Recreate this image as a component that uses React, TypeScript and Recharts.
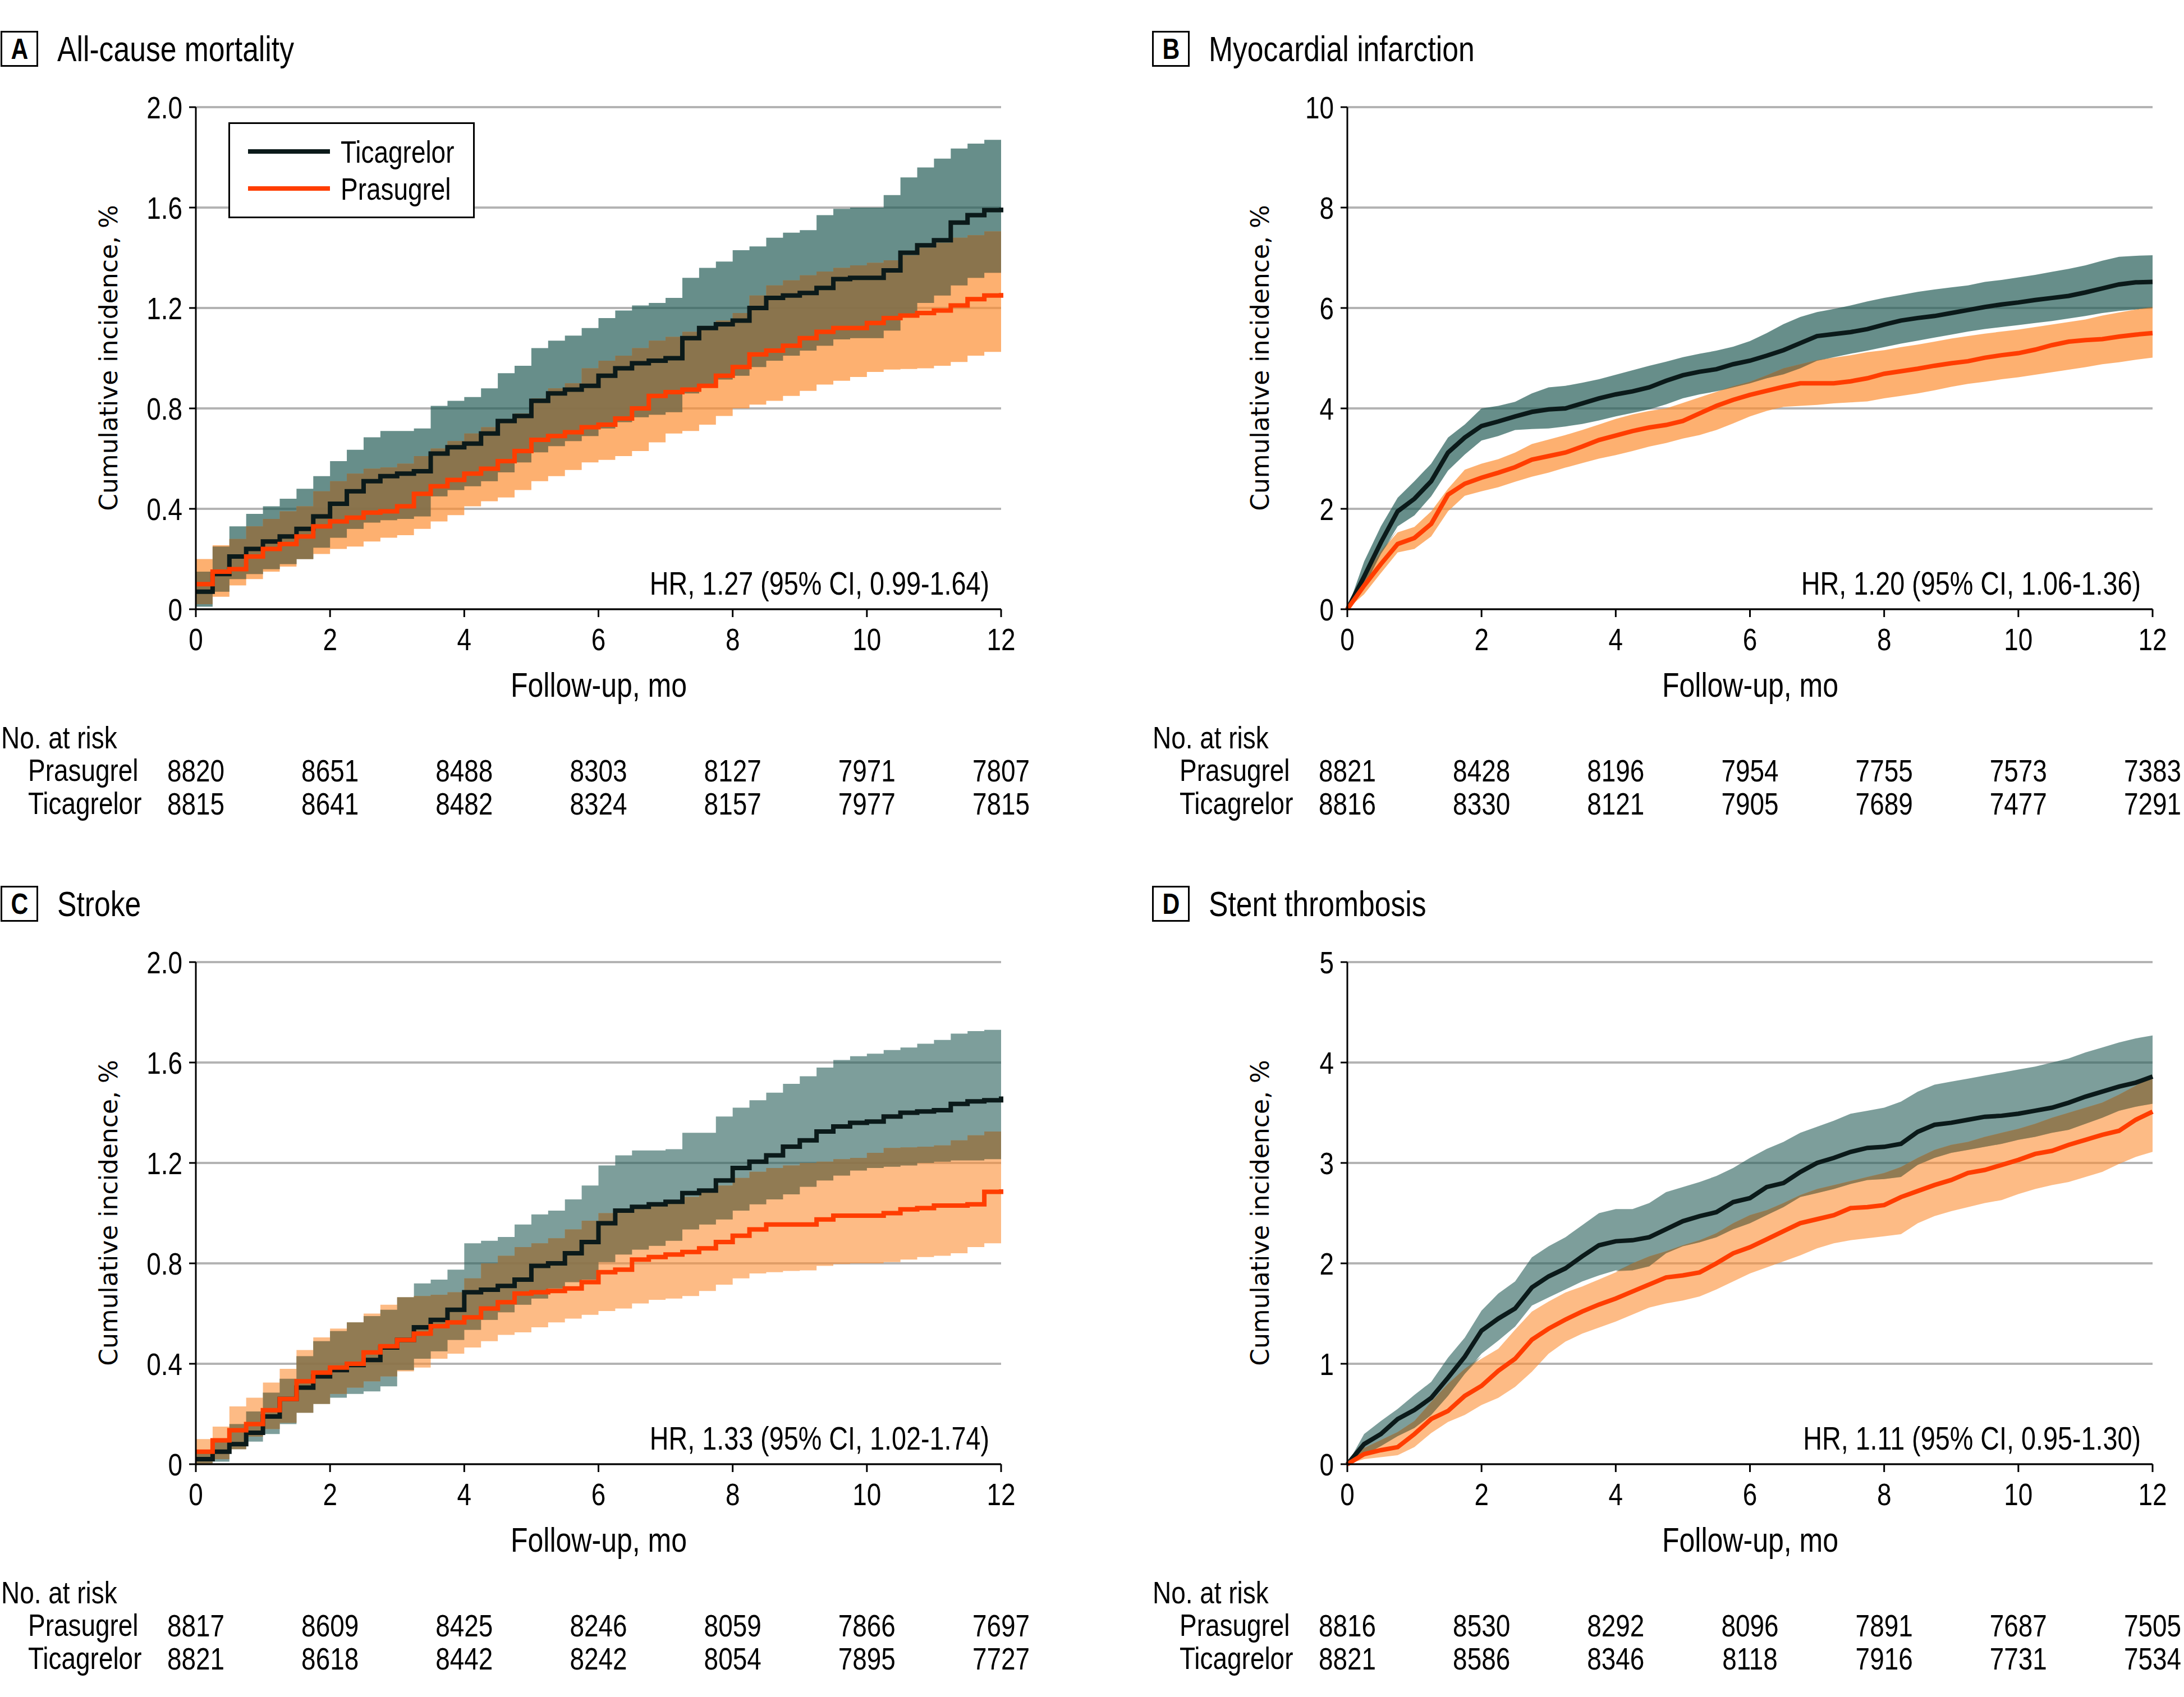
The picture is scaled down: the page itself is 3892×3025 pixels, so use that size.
import React from 'react';
import { ComposedChart, Area, Line, XAxis, YAxis, CartesianGrid } from 'recharts';

// narrow face = Liberation Sans squeezed horizontally (same as Arial Narrow)
const FONT = "'Liberation Sans', Arial, sans-serif";
const NARROW = 0.82;
const YLABEL_FONT = "'DejaVu Sans', Verdana, sans-serif";

const TEAL = '#275e58';
const ORANGE = '#fc8e33';
const OVERLAP = '#6c6a4d';
const TICA_COLOR = '#0b1a1a';
const PRAS_COLOR = '#ff3d00';

// follow-up grid, months
const MONTHS = [
  0, 0.25, 0.5, 0.75, 1, 1.25, 1.5, 1.75, 2, 2.25, 2.5, 2.75, 3, 3.25, 3.5, 3.75, 4,
  4.25, 4.5, 4.75, 5, 5.25, 5.5, 5.75, 6, 6.25, 6.5, 6.75, 7, 7.25, 7.5, 7.75, 8,
  8.25, 8.5, 8.75, 9, 9.25, 9.5, 9.75, 10, 10.25, 10.5, 10.75, 11, 11.25, 11.5, 11.75, 12,
];
const MONTH_TICKS = [0, 2, 4, 6, 8, 10, 12];

// A - all-cause mortality
const mortTicaLine = [0.07, 0.14, 0.21, 0.24, 0.27, 0.29, 0.32, 0.37, 0.42, 0.47, 0.51, 0.53, 0.54, 0.55, 0.62, 0.645, 0.66, 0.70, 0.75, 0.77, 0.83, 0.86, 0.875, 0.89, 0.93, 0.96, 0.98, 0.99, 1.0, 1.08, 1.12, 1.135, 1.15, 1.2, 1.24, 1.25, 1.26, 1.28, 1.315, 1.32, 1.32, 1.35, 1.42, 1.45, 1.47, 1.54, 1.57, 1.59, 1.60];
const mortTicaHigh = [0.15, 0.25, 0.33, 0.38, 0.41, 0.44, 0.48, 0.53, 0.59, 0.635, 0.685, 0.71, 0.71, 0.72, 0.81, 0.83, 0.845, 0.88, 0.94, 0.97, 1.04, 1.07, 1.09, 1.12, 1.16, 1.19, 1.21, 1.22, 1.24, 1.32, 1.36, 1.385, 1.43, 1.445, 1.48, 1.50, 1.51, 1.57, 1.595, 1.60, 1.60, 1.65, 1.72, 1.76, 1.795, 1.835, 1.855, 1.87, 1.89];
const mortTicaLow = [0.01, 0.07, 0.12, 0.14, 0.16, 0.18, 0.20, 0.245, 0.285, 0.32, 0.345, 0.355, 0.36, 0.37, 0.45, 0.475, 0.49, 0.51, 0.545, 0.585, 0.625, 0.65, 0.67, 0.69, 0.72, 0.745, 0.765, 0.775, 0.785, 0.86, 0.895, 0.915, 0.93, 0.965, 0.99, 1.01, 1.03, 1.05, 1.075, 1.08, 1.08, 1.11, 1.17, 1.22, 1.25, 1.29, 1.32, 1.34, 1.355];
const mortPrasLine = [0.1, 0.15, 0.16, 0.21, 0.24, 0.26, 0.29, 0.33, 0.35, 0.365, 0.385, 0.39, 0.41, 0.46, 0.49, 0.515, 0.54, 0.56, 0.59, 0.63, 0.675, 0.69, 0.705, 0.725, 0.735, 0.76, 0.80, 0.85, 0.865, 0.875, 0.89, 0.93, 0.965, 1.015, 1.03, 1.05, 1.08, 1.105, 1.12, 1.12, 1.14, 1.16, 1.17, 1.18, 1.19, 1.21, 1.235, 1.25, 1.26];
const mortPrasHigh = [0.2, 0.255, 0.28, 0.33, 0.36, 0.39, 0.41, 0.47, 0.51, 0.54, 0.56, 0.565, 0.58, 0.61, 0.64, 0.67, 0.70, 0.725, 0.75, 0.78, 0.84, 0.88, 0.90, 0.96, 0.99, 1.01, 1.04, 1.07, 1.085, 1.105, 1.125, 1.15, 1.18, 1.25, 1.29, 1.31, 1.33, 1.345, 1.36, 1.37, 1.38, 1.39, 1.41, 1.44, 1.46, 1.48, 1.49, 1.505, 1.515];
const mortPrasLow = [0.02, 0.05, 0.095, 0.12, 0.15, 0.17, 0.20, 0.22, 0.24, 0.25, 0.27, 0.285, 0.295, 0.32, 0.35, 0.375, 0.41, 0.43, 0.445, 0.475, 0.51, 0.53, 0.555, 0.585, 0.595, 0.61, 0.63, 0.665, 0.70, 0.71, 0.735, 0.77, 0.80, 0.815, 0.83, 0.85, 0.87, 0.895, 0.91, 0.925, 0.945, 0.955, 0.957, 0.96, 0.97, 0.985, 1.01, 1.025, 1.04];
const mortRiskPras = [8820, 8651, 8488, 8303, 8127, 7971, 7807];
const mortRiskTica = [8815, 8641, 8482, 8324, 8157, 7977, 7815];

// B - myocardial infarction
const miTicaLine = [0, 0.65, 1.33, 1.95, 2.2, 2.55, 3.12, 3.42, 3.65, 3.74, 3.84, 3.93, 3.98, 4.0, 4.1, 4.2, 4.28, 4.34, 4.42, 4.55, 4.66, 4.73, 4.78, 4.88, 4.95, 5.05, 5.16, 5.3, 5.44, 5.48, 5.52, 5.58, 5.67, 5.75, 5.80, 5.84, 5.90, 5.96, 6.02, 6.07, 6.11, 6.16, 6.2, 6.24, 6.31, 6.39, 6.47, 6.51, 6.52];
const miTicaHigh = [0, 0.95, 1.65, 2.22, 2.55, 2.9, 3.42, 3.68, 4.0, 4.05, 4.13, 4.3, 4.42, 4.45, 4.51, 4.58, 4.67, 4.76, 4.85, 4.93, 5.02, 5.09, 5.15, 5.23, 5.34, 5.5, 5.68, 5.82, 5.92, 5.98, 6.05, 6.13, 6.2, 6.26, 6.32, 6.37, 6.41, 6.45, 6.52, 6.56, 6.61, 6.66, 6.72, 6.78, 6.85, 6.94, 7.02, 7.04, 7.05];
const miTicaLow = [0, 0.45, 1.1, 1.65, 1.87, 2.25, 2.76, 3.08, 3.36, 3.45, 3.57, 3.59, 3.60, 3.64, 3.69, 3.76, 3.84, 3.91, 3.98, 4.08, 4.2, 4.28, 4.34, 4.42, 4.5, 4.6, 4.68, 4.8, 4.95, 5.02, 5.09, 5.15, 5.22, 5.29, 5.35, 5.41, 5.47, 5.53, 5.58, 5.62, 5.66, 5.70, 5.74, 5.79, 5.84, 5.9, 5.94, 5.97, 6.0];
const miPrasLine = [0, 0.47, 0.9, 1.3, 1.42, 1.7, 2.28, 2.5, 2.62, 2.72, 2.83, 2.98, 3.05, 3.12, 3.24, 3.37, 3.46, 3.55, 3.62, 3.67, 3.75, 3.9, 4.05, 4.17, 4.27, 4.35, 4.43, 4.5, 4.5, 4.5, 4.54, 4.6, 4.69, 4.74, 4.79, 4.85, 4.9, 4.94, 5.01, 5.06, 5.1, 5.17, 5.26, 5.33, 5.36, 5.38, 5.43, 5.47, 5.50];
const miPrasHigh = [0, 0.65, 1.15, 1.53, 1.64, 1.95, 2.4, 2.78, 2.9, 2.99, 3.12, 3.29, 3.38, 3.47, 3.57, 3.68, 3.79, 3.88, 3.95, 4.0, 4.11, 4.22, 4.33, 4.44, 4.53, 4.66, 4.8, 4.88, 4.96, 5.01, 5.06, 5.12, 5.16, 5.22, 5.27, 5.33, 5.39, 5.44, 5.49, 5.53, 5.57, 5.62, 5.67, 5.72, 5.77, 5.85, 5.91, 5.97, 6.02];
const miPrasLow = [0, 0.3, 0.72, 1.13, 1.2, 1.45, 1.95, 2.26, 2.35, 2.43, 2.54, 2.64, 2.72, 2.82, 2.91, 3.0, 3.07, 3.15, 3.24, 3.31, 3.4, 3.47, 3.57, 3.7, 3.84, 3.95, 4.03, 4.05, 4.07, 4.1, 4.12, 4.14, 4.2, 4.25, 4.3, 4.36, 4.43, 4.49, 4.53, 4.58, 4.62, 4.67, 4.72, 4.77, 4.82, 4.88, 4.92, 4.97, 5.01];
const miRiskPras = [8821, 8428, 8196, 7954, 7755, 7573, 7383];
const miRiskTica = [8816, 8330, 8121, 7905, 7689, 7477, 7291];

// C - stroke
const strokeTicaLine = [0.02, 0.05, 0.08, 0.125, 0.19, 0.26, 0.305, 0.35, 0.375, 0.395, 0.415, 0.465, 0.495, 0.545, 0.575, 0.615, 0.685, 0.695, 0.71, 0.735, 0.79, 0.80, 0.84, 0.885, 0.96, 1.01, 1.025, 1.035, 1.045, 1.08, 1.09, 1.13, 1.18, 1.205, 1.23, 1.265, 1.29, 1.325, 1.345, 1.36, 1.365, 1.385, 1.40, 1.405, 1.41, 1.435, 1.445, 1.45, 1.465];
const strokeTicaHigh = [0.05, 0.1, 0.16, 0.21, 0.285, 0.34, 0.43, 0.49, 0.53, 0.565, 0.59, 0.615, 0.665, 0.72, 0.735, 0.775, 0.88, 0.89, 0.905, 0.955, 0.995, 1.01, 1.055, 1.11, 1.19, 1.23, 1.25, 1.25, 1.255, 1.32, 1.32, 1.385, 1.42, 1.45, 1.48, 1.515, 1.545, 1.58, 1.61, 1.625, 1.635, 1.65, 1.66, 1.675, 1.69, 1.715, 1.725, 1.73, 1.735];
const strokeTicaLow = [0, 0.01, 0.06, 0.09, 0.12, 0.16, 0.205, 0.24, 0.265, 0.28, 0.29, 0.31, 0.375, 0.42, 0.45, 0.495, 0.535, 0.575, 0.605, 0.635, 0.66, 0.70, 0.725, 0.735, 0.805, 0.835, 0.855, 0.87, 0.89, 0.935, 0.955, 0.975, 1.01, 1.035, 1.055, 1.075, 1.105, 1.13, 1.15, 1.17, 1.18, 1.185, 1.19, 1.2, 1.205, 1.21, 1.21, 1.215, 1.22];
const strokePrasLine = [0.05, 0.095, 0.135, 0.16, 0.215, 0.26, 0.33, 0.365, 0.385, 0.40, 0.445, 0.47, 0.495, 0.52, 0.55, 0.565, 0.585, 0.62, 0.645, 0.68, 0.685, 0.69, 0.70, 0.725, 0.765, 0.775, 0.815, 0.825, 0.835, 0.845, 0.86, 0.885, 0.91, 0.935, 0.955, 0.955, 0.955, 0.975, 0.99, 0.99, 0.99, 1.0, 1.015, 1.02, 1.03, 1.03, 1.035, 1.085, 1.095];
const strokePrasHigh = [0.1, 0.15, 0.23, 0.265, 0.325, 0.38, 0.455, 0.505, 0.54, 0.565, 0.60, 0.635, 0.665, 0.67, 0.675, 0.685, 0.74, 0.80, 0.83, 0.865, 0.88, 0.90, 0.935, 0.97, 1.0, 1.015, 1.03, 1.04, 1.05, 1.065, 1.085, 1.11, 1.14, 1.165, 1.18, 1.19, 1.20, 1.205, 1.215, 1.22, 1.24, 1.26, 1.262, 1.265, 1.27, 1.29, 1.31, 1.325, 1.33];
const strokePrasLow = [0, 0.02, 0.06, 0.11, 0.14, 0.165, 0.205, 0.24, 0.28, 0.305, 0.33, 0.35, 0.37, 0.385, 0.42, 0.44, 0.465, 0.49, 0.515, 0.525, 0.545, 0.565, 0.58, 0.595, 0.61, 0.62, 0.64, 0.655, 0.66, 0.67, 0.69, 0.715, 0.74, 0.76, 0.765, 0.77, 0.772, 0.79, 0.797, 0.80, 0.80, 0.805, 0.815, 0.825, 0.83, 0.84, 0.865, 0.88, 0.89];
const strokeRiskPras = [8817, 8609, 8425, 8246, 8059, 7866, 7697];
const strokeRiskTica = [8821, 8618, 8442, 8242, 8054, 7895, 7727];

// D - stent thrombosis
const stentTicaLine = [0, 0.2, 0.3, 0.45, 0.54, 0.66, 0.86, 1.07, 1.33, 1.45, 1.55, 1.76, 1.87, 1.95, 2.07, 2.18, 2.22, 2.23, 2.26, 2.34, 2.42, 2.47, 2.51, 2.61, 2.65, 2.76, 2.80, 2.91, 3.0, 3.05, 3.11, 3.15, 3.16, 3.19, 3.31, 3.38, 3.40, 3.43, 3.46, 3.47, 3.49, 3.52, 3.55, 3.60, 3.66, 3.71, 3.76, 3.80, 3.86];
const stentTicaHigh = [0, 0.3, 0.43, 0.55, 0.69, 0.82, 1.06, 1.26, 1.53, 1.70, 1.82, 2.06, 2.17, 2.26, 2.38, 2.50, 2.54, 2.54, 2.60, 2.71, 2.76, 2.81, 2.87, 2.95, 3.05, 3.14, 3.21, 3.30, 3.36, 3.42, 3.49, 3.52, 3.55, 3.61, 3.71, 3.78, 3.81, 3.84, 3.87, 3.90, 3.93, 3.96, 4.0, 4.04, 4.10, 4.15, 4.20, 4.24, 4.27];
const stentTicaLow = [0, 0.09, 0.18, 0.28, 0.36, 0.49, 0.68, 0.90, 1.10, 1.23, 1.37, 1.58, 1.66, 1.74, 1.82, 1.88, 1.93, 1.93, 1.97, 2.10, 2.17, 2.21, 2.26, 2.34, 2.40, 2.48, 2.56, 2.66, 2.70, 2.74, 2.79, 2.83, 2.84, 2.86, 2.98, 3.05, 3.10, 3.13, 3.16, 3.19, 3.23, 3.26, 3.30, 3.33, 3.39, 3.45, 3.52, 3.56, 3.59];
const stentPrasLine = [0, 0.1, 0.14, 0.17, 0.3, 0.45, 0.53, 0.68, 0.78, 0.93, 1.05, 1.24, 1.35, 1.44, 1.52, 1.59, 1.65, 1.72, 1.79, 1.86, 1.88, 1.91, 2.0, 2.10, 2.16, 2.24, 2.32, 2.40, 2.44, 2.48, 2.55, 2.56, 2.58, 2.66, 2.72, 2.78, 2.83, 2.90, 2.93, 2.98, 3.03, 3.09, 3.12, 3.18, 3.23, 3.28, 3.32, 3.43, 3.51];
const stentPrasHigh = [0, 0.16, 0.24, 0.32, 0.43, 0.62, 0.80, 0.95, 1.05, 1.15, 1.34, 1.52, 1.62, 1.71, 1.77, 1.84, 1.91, 2.0, 2.07, 2.12, 2.18, 2.23, 2.30, 2.40, 2.48, 2.53, 2.60, 2.68, 2.74, 2.78, 2.82, 2.86, 2.90, 2.96, 3.05, 3.13, 3.18, 3.21, 3.26, 3.30, 3.34, 3.39, 3.45, 3.50, 3.55, 3.60, 3.68, 3.77, 3.87];
const stentPrasLow = [0, 0.05, 0.07, 0.09, 0.17, 0.31, 0.42, 0.49, 0.59, 0.66, 0.77, 0.92, 1.10, 1.22, 1.30, 1.36, 1.42, 1.49, 1.56, 1.60, 1.63, 1.67, 1.74, 1.82, 1.90, 1.96, 2.02, 2.08, 2.15, 2.20, 2.23, 2.25, 2.27, 2.29, 2.40, 2.47, 2.52, 2.56, 2.60, 2.63, 2.69, 2.74, 2.78, 2.81, 2.86, 2.91, 2.99, 3.06, 3.11];
const stentRiskPras = [8816, 8530, 8292, 8096, 7891, 7687, 7505];
const stentRiskTica = [8821, 8586, 8346, 8118, 7916, 7731, 7534];

// layout (per panel, px)
const PANEL_H = 1524;
const PLOT_LEFT = 349;
const PLOT_RIGHT = 1784;
const PLOT_TOP = 191;
const PLOT_BOTTOM = 1086;
const YAXIS_W = 100;
const XAXIS_H = 60;
const TICK_SIZE = 56;
const LABEL_SIZE = 61;
const TITLE_SIZE = 63;

const buildRows = (
  ticaLine: number[], ticaLow: number[], ticaHigh: number[],
  prasLine: number[], prasLow: number[], prasHigh: number[],
) =>
  MONTHS.map((t, i) => {
    const lo = Math.max(ticaLow[i], prasLow[i]);
    const hi = Math.min(ticaHigh[i], prasHigh[i]);
    const mid = (lo + hi) / 2;
    return {
      t,
      tica: ticaLine[i],
      pras: prasLine[i],
      ticaCI: [ticaLow[i], ticaHigh[i]],
      prasCI: [prasLow[i], prasHigh[i]],
      both: lo <= hi ? [lo, hi] : [mid, mid],
    };
  });

const panels = [
  {
    letter: 'A', title: 'All-cause mortality', left: 0, top: 0, width: 1950,
    yMax: 2, yTicks: [0, 0.4, 0.8, 1.2, 1.6, 2.0], decimals: 1, curve: 'stepAfter', bandOpacity: 0.7,
    rows: buildRows(mortTicaLine, mortTicaLow, mortTicaHigh, mortPrasLine, mortPrasLow, mortPrasHigh),
    hr: 'HR, 1.27 (95% CI, 0.99-1.64)', riskPras: mortRiskPras, riskTica: mortRiskTica, legend: true,
  },
  {
    letter: 'B', title: 'Myocardial infarction', left: 2052, top: 0, width: 1840,
    yMax: 10, yTicks: [0, 2, 4, 6, 8, 10], decimals: 0, curve: 'linear', bandOpacity: 0.7,
    rows: buildRows(miTicaLine, miTicaLow, miTicaHigh, miPrasLine, miPrasLow, miPrasHigh),
    hr: 'HR, 1.20 (95% CI, 1.06-1.36)', riskPras: miRiskPras, riskTica: miRiskTica, legend: false,
  },
  {
    letter: 'C', title: 'Stroke', left: 0, top: PANEL_H, width: 1950,
    yMax: 2, yTicks: [0, 0.4, 0.8, 1.2, 1.6, 2.0], decimals: 1, curve: 'stepAfter', bandOpacity: 0.6,
    rows: buildRows(strokeTicaLine, strokeTicaLow, strokeTicaHigh, strokePrasLine, strokePrasLow, strokePrasHigh),
    hr: 'HR, 1.33 (95% CI, 1.02-1.74)', riskPras: strokeRiskPras, riskTica: strokeRiskTica, legend: false,
  },
  {
    letter: 'D', title: 'Stent thrombosis', left: 2052, top: PANEL_H, width: 1840,
    yMax: 5, yTicks: [0, 1, 2, 3, 4, 5], decimals: 0, curve: 'linear', bandOpacity: 0.6,
    rows: buildRows(stentTicaLine, stentTicaLow, stentTicaHigh, stentPrasLine, stentPrasLow, stentPrasHigh),
    hr: 'HR, 1.11 (95% CI, 0.95-1.30)', riskPras: stentRiskPras, riskTica: stentRiskTica, legend: false,
  },
];

// html text, squeezed to a narrow face, anchored at (x, y) = its vertical centre
const Txt = ({ x, y, anchor = 'start', size, weight = 400, children }: any) => {
  const tx = anchor === 'middle' ? '-50%' : anchor === 'end' ? '-100%' : '0';
  const ox = anchor === 'middle' ? 'center' : anchor === 'end' ? 'right' : 'left';
  return (
    <div
      style={{
        position: 'absolute', left: x, top: y,
        transform: `translate(${tx}, -50%) scaleX(${NARROW})`, transformOrigin: `${ox} center`,
        fontSize: size, fontFamily: FONT, fontWeight: weight, lineHeight: 1,
        whiteSpace: 'nowrap', color: '#000',
      }}
    >
      {children}
    </div>
  );
};

// svg text, squeezed the same way
const NarrowText = ({ x, y, anchor, children }: any) => (
  <text
    transform={`translate(${x},${y}) scale(${NARROW},1)`}
    textAnchor={anchor}
    dy="0.36em"
    fontSize={TICK_SIZE}
    fontFamily={FONT}
    fill="#000"
  >
    {children}
  </text>
);

// x tick label plus the at-risk numbers under it
const makeRiskTick = (pras: number[], tica: number[]) => (props: any) => {
  const { x, payload } = props;
  const i = MONTH_TICKS.indexOf(payload.value);
  return (
    <g>
      <NarrowText x={x} y={PLOT_BOTTOM + 53} anchor="middle">{payload.value}</NarrowText>
      <NarrowText x={x} y={1373} anchor="middle">{pras[i]}</NarrowText>
      <NarrowText x={x} y={1432} anchor="middle">{tica[i]}</NarrowText>
    </g>
  );
};

const makeYTick = (decimals: number) => (props: any) => {
  const { x, y, payload } = props;
  const v = payload.value;
  return <NarrowText x={x} y={y} anchor="end">{v === 0 ? '0' : v.toFixed(decimals)}</NarrowText>;
};

const LegendBox = () => (
  <div
    style={{
      position: 'absolute', left: 407, top: 218, width: 439, height: 171,
      border: '3px solid #000', boxSizing: 'border-box', background: '#fff',
    }}
  >
    <div style={{ position: 'absolute', left: 32, top: 45, width: 146, height: 8, background: TICA_COLOR }} />
    <div style={{ position: 'absolute', left: 32, top: 111, width: 146, height: 8, background: PRAS_COLOR }} />
    <Txt x={197} y={50} size={TICK_SIZE}>Ticagrelor</Txt>
    <Txt x={197} y={116} size={TICK_SIZE}>Prasugrel</Txt>
  </div>
);

const Panel = ({ p }: any) => (
  <div style={{ position: 'absolute', left: p.left, top: p.top, width: p.width, height: PANEL_H }}>
    <ComposedChart
      width={p.width}
      height={PANEL_H}
      data={p.rows}
      margin={{
        top: PLOT_TOP,
        right: p.width - PLOT_RIGHT,
        bottom: PANEL_H - PLOT_BOTTOM - XAXIS_H,
        left: PLOT_LEFT - YAXIS_W,
      }}
    >
      <CartesianGrid vertical={false} stroke="#b3b3b3" strokeWidth={4} />
      <XAxis
        type="number"
        dataKey="t"
        domain={[0, 12]}
        ticks={MONTH_TICKS}
        interval={0}
        height={XAXIS_H}
        tickSize={14}
        axisLine={{ stroke: '#000', strokeWidth: 3 }}
        tickLine={{ stroke: '#000', strokeWidth: 3 }}
        tick={makeRiskTick(p.riskPras, p.riskTica)}
      />
      <YAxis
        type="number"
        domain={[0, p.yMax]}
        ticks={p.yTicks}
        interval={0}
        width={YAXIS_W}
        tickSize={12}
        tickMargin={12}
        axisLine={{ stroke: '#000', strokeWidth: 3 }}
        tickLine={{ stroke: '#000', strokeWidth: 3 }}
        tick={makeYTick(p.decimals)}
      />
      <Area dataKey="ticaCI" type={p.curve} fill={TEAL} fillOpacity={p.bandOpacity} stroke="none" legendType="none" activeDot={false} isAnimationActive={false} />
      <Area dataKey="prasCI" type={p.curve} fill={ORANGE} fillOpacity={p.bandOpacity} stroke="none" legendType="none" activeDot={false} isAnimationActive={false} />
      <Area dataKey="both" type={p.curve} fill={OVERLAP} fillOpacity={p.bandOpacity} stroke="none" legendType="none" activeDot={false} isAnimationActive={false} />
      <Line dataKey="tica" name="Ticagrelor" type={p.curve} stroke={TICA_COLOR} strokeWidth={8} dot={false} activeDot={false} isAnimationActive={false} />
      <Line dataKey="pras" name="Prasugrel" type={p.curve} stroke={PRAS_COLOR} strokeWidth={8} dot={false} activeDot={false} isAnimationActive={false} />
    </ComposedChart>

    <div
      style={{
        position: 'absolute', left: 1, top: 55, width: 67, height: 64,
        border: '3px solid #000', boxSizing: 'border-box',
      }}
    >
      <Txt x={31} y={29} anchor="middle" size={52} weight={700}>{p.letter}</Txt>
    </div>
    <Txt x={102} y={87} size={TITLE_SIZE}>{p.title}</Txt>
    <div
      style={{
        position: 'absolute', left: 194, top: 638, transform: 'translate(-50%, -50%) rotate(-90deg)',
        fontFamily: YLABEL_FONT, fontSize: 44, lineHeight: 1, whiteSpace: 'nowrap', color: '#000',
      }}
    >
      Cumulative incidence, %
    </div>
    <Txt x={1763} y={1040} anchor="end" size={57}>{p.hr}</Txt>
    <Txt x={(PLOT_LEFT + PLOT_RIGHT) / 2} y={1221} anchor="middle" size={LABEL_SIZE}>Follow-up, mo</Txt>
    <Txt x={2} y={1315} size={TICK_SIZE}>No. at risk</Txt>
    <Txt x={50} y={1373} size={TICK_SIZE}>Prasugrel</Txt>
    <Txt x={50} y={1432} size={TICK_SIZE}>Ticagrelor</Txt>
    {p.legend && <LegendBox />}
  </div>
);

export default function App() {
  return (
    <div style={{ position: 'absolute', left: 0, top: 0, width: 3892, height: 3025, background: '#fff', overflow: 'hidden' }}>
      {panels.map((p) => (
        <Panel key={p.letter} p={p} />
      ))}
    </div>
  );
}
